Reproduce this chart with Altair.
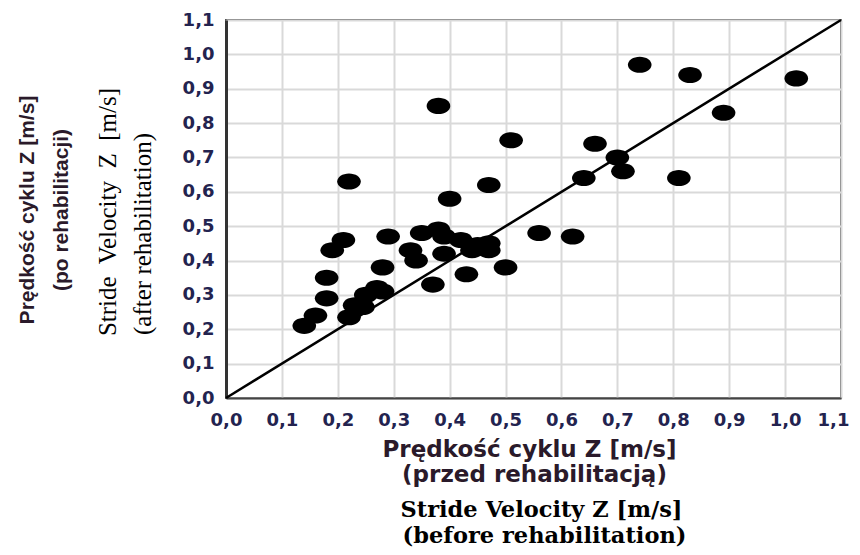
import altair as alt
import pandas as pd

# Stride velocity before (x) and after (y) rehabilitation, m/s
before = [0.38, 0.51, 0.22, 0.47, 0.40, 0.74, 0.83, 1.02, 0.89, 0.66,
          0.70, 0.71, 0.64, 0.81, 0.56, 0.62, 0.21, 0.19, 0.29, 0.18,
          0.18, 0.28, 0.16, 0.14, 0.27, 0.25, 0.23, 0.22, 0.28, 0.245,
          0.33, 0.34, 0.35, 0.38, 0.39, 0.39, 0.42, 0.44, 0.47, 0.47,
          0.37, 0.43, 0.50, 0.45]
after = [0.85, 0.75, 0.63, 0.62, 0.58, 0.97, 0.94, 0.93, 0.83, 0.74,
         0.70, 0.66, 0.64, 0.64, 0.48, 0.47, 0.46, 0.43, 0.47, 0.35,
         0.29, 0.38, 0.24, 0.21, 0.32, 0.30, 0.27, 0.235, 0.31, 0.265,
         0.43, 0.40, 0.48, 0.49, 0.47, 0.42, 0.46, 0.43, 0.45, 0.43,
         0.33, 0.36, 0.38, 0.445]
diag = [0.0, 1.1]
tick_values = [round(i * 0.1, 1) for i in range(12)]

pts = pd.DataFrame({"before": before, "after": after})
line_df = pd.DataFrame({"before": diag, "after": diag})

label_expr = "replace(format(datum.value, '.1f'), '.', ',')"
common_axis = dict(
    values=tick_values, labelExpr=label_expr, labelFont="DejaVu Sans",
    labelFontWeight="bold", labelFontSize=18, labelColor="#23234f",
    grid=True, gridColor="#d9d9d9", gridWidth=2, ticks=False, title=None,
    labelOverlap=False, labelFlush=False, tickCount=12,
)
x_axis = alt.Axis(
    labelPadding=13, domainColor="#444444", domainWidth=2,
    labelOffset={"condition": {"test": "datum.value > 1.05", "value": -8}, "value": 0},
    **common_axis,
)
y_axis = alt.Axis(labelPadding=12, domainColor="#333333", domainWidth=3, **common_axis)

xs = alt.Scale(domain=[0, 1.1], nice=False, zero=False)
ys = alt.Scale(domain=[0, 1.1], nice=False, zero=False)

ellipse = "M -1 0 A 1 0.68 0 1 0 1 0 A 1 0.68 0 1 0 -1 0 Z"

points = alt.Chart(pts).mark_point(
    shape=ellipse, filled=True, color="#000000", opacity=1, size=560
).encode(
    x=alt.X("before:Q", scale=xs, axis=x_axis),
    y=alt.Y("after:Q", scale=ys, axis=y_axis),
)

line = alt.Chart(line_df).mark_line(color="#000000", strokeWidth=2.5).encode(
    x=alt.X("before:Q", scale=xs, axis=x_axis),
    y=alt.Y("after:Q", scale=ys, axis=y_axis),
)


def label(text, x, y, font, size, weight, color, angle=0, baseline="middle"):
    return alt.Chart(alt.InlineData(values=[{}])).mark_text(
        text=text, font=font, fontSize=size, fontWeight=weight, color=color,
        angle=angle, align="center", baseline=baseline
    ).encode(x=alt.value(x), y=alt.value(y))


pl_color = "#2a1a2a"
nb = "\u00a0"
titles = [
    label("Prędkość cyklu Z [m/s]", 303.5, 430, "DejaVu Sans", 23, "bold", pl_color),
    label("(przed rehabilitacją)", 308.5, 455, "DejaVu Sans", 23, "bold", pl_color),
    label("Stride Velocity Z [m/s]", 315.5, 497, "DejaVu Serif", 22.5, "bold", "#000000",
          baseline="alphabetic"),
    label("(before rehabilitation)", 318.5, 523, "DejaVu Serif", 22.5, "bold", "#000000",
          baseline="alphabetic"),
    label("Prędkość cyklu Z [m/s]", -198.5, 190, "Liberation Sans", 21, "bold", pl_color, 270),
    label("(po rehabilitacji)", -164.5, 190, "Liberation Sans", 21, "bold", pl_color, 270),
    label(f"Stride{nb} Velocity{nb} Z{nb} [m/s]", -118.5, 192, "Liberation Serif", 25, "normal", "#000000", 270),
    label("(after rehabilitation)", -83.5, 214, "Liberation Serif", 25, "normal", "#000000", 270),
]

chart = alt.layer(points, line, *titles).properties(
    width=615, height=378,
    padding={"left": 218, "top": 12, "right": 11, "bottom": 149},
    autosize=alt.AutoSizeParams(type="none"),
    background="#ffffff",
).configure_view(stroke="#555555", strokeWidth=2)

chart.save("out.html", embed_options={"renderer": "svg", "actions": False})
